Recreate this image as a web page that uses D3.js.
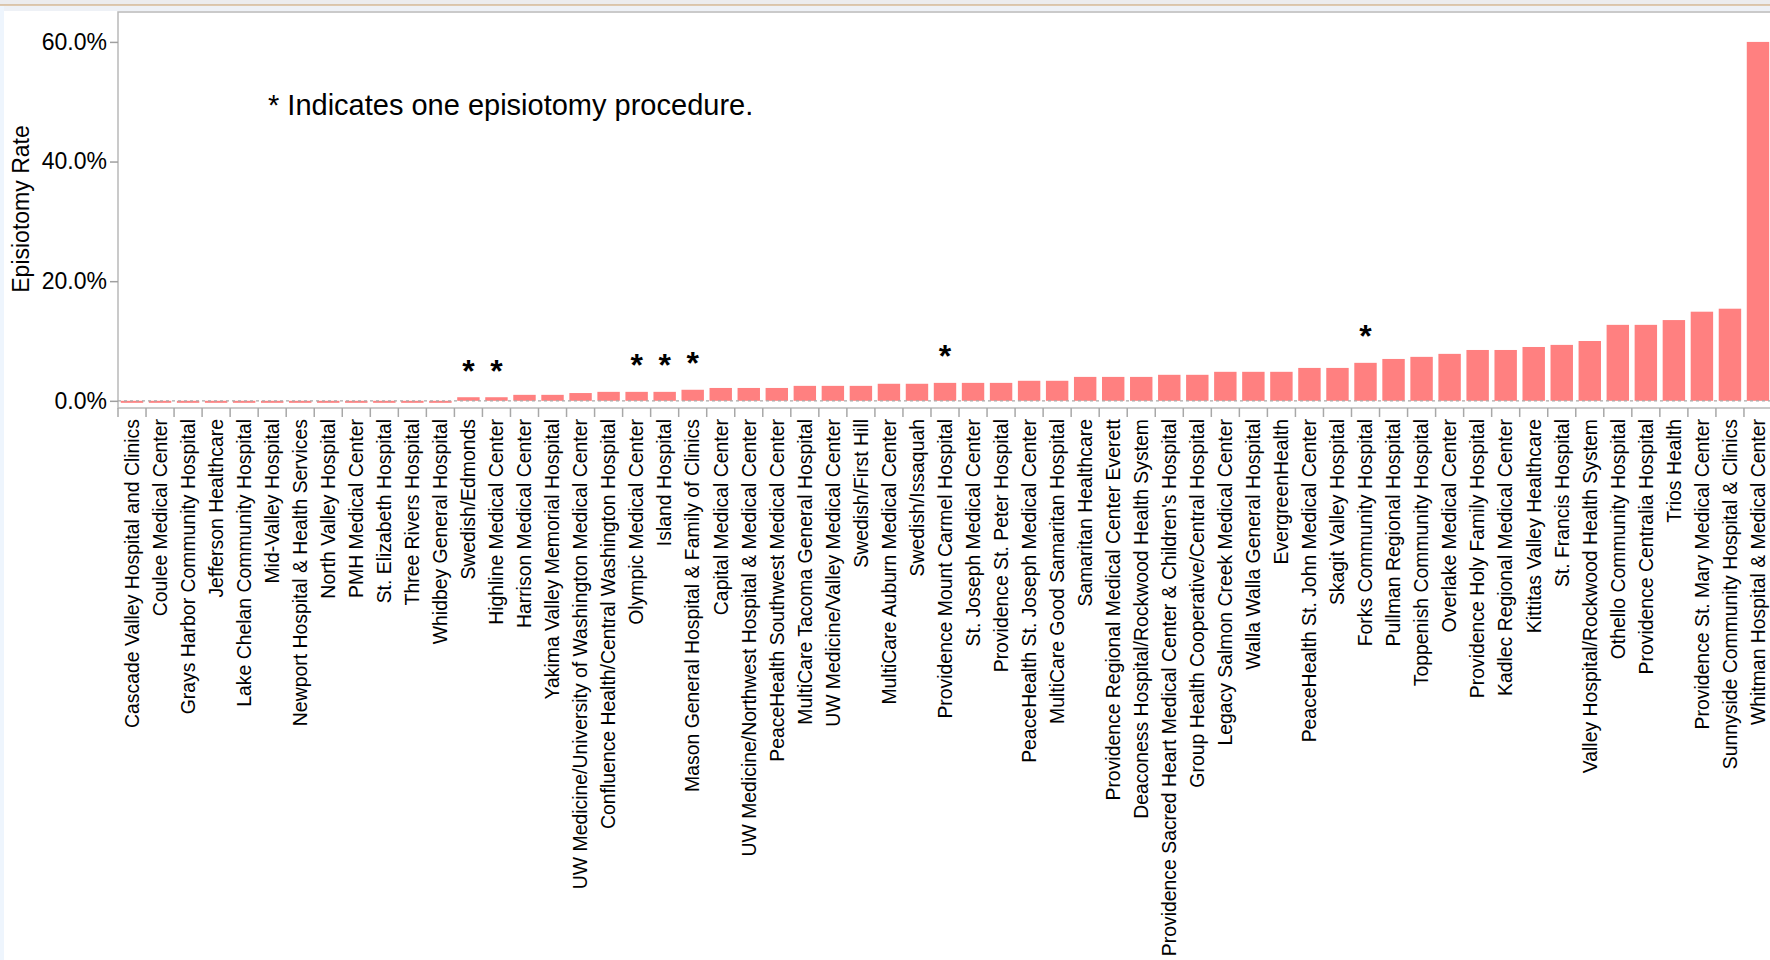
<!DOCTYPE html>
<html>
<head>
<meta charset="utf-8">
<script src="https://cdn.jsdelivr.net/npm/d3@7"></script>
<style>
  html, body { margin: 0; padding: 0; background: #ffffff; }
  svg { display: block; font-family: "Liberation Sans", Arial, sans-serif; }
</style>
</head>
<body>
<svg id="chart" width="1770" height="960"></svg>
<script>
const hospitals = [
  "Cascade Valley Hospital and Clinics",
  "Coulee Medical Center",
  "Grays Harbor Community Hospital",
  "Jefferson Healthcare",
  "Lake Chelan Community Hospital",
  "Mid-Valley Hospital",
  "Newport Hospital & Health Services",
  "North Valley Hospital",
  "PMH Medical Center",
  "St. Elizabeth Hospital",
  "Three Rivers Hospital",
  "Whidbey General Hospital",
  "Swedish/Edmonds",
  "Highline Medical Center",
  "Harrison Medical Center",
  "Yakima Valley Memorial Hospital",
  "UW Medicine/University of Washington Medical Center",
  "Confluence Health/Central Washington Hospital",
  "Olympic Medical Center",
  "Island Hospital",
  "Mason General Hospital & Family of Clinics",
  "Capital Medical Center",
  "UW Medicine/Northwest Hospital & Medical Center",
  "PeaceHealth Southwest Medical Center",
  "MultiCare Tacoma General Hospital",
  "UW Medicine/Valley Medical Center",
  "Swedish/First Hill",
  "MultiCare Auburn Medical Center",
  "Swedish/Issaquah",
  "Providence Mount Carmel Hospital",
  "St. Joseph Medical Center",
  "Providence St. Peter Hospital",
  "PeaceHealth St. Joseph Medical Center",
  "MultiCare Good Samaritan Hospital",
  "Samaritan Healthcare",
  "Providence Regional Medical Center Everett",
  "Deaconess Hospital/Rockwood Health System",
  "Providence Sacred Heart Medical Center & Children's Hospital",
  "Group Health Cooperative/Central Hospital",
  "Legacy Salmon Creek Medical Center",
  "Walla Walla General Hospital",
  "EvergreenHealth",
  "PeaceHealth St. John Medical Center",
  "Skagit Valley Hospital",
  "Forks Community Hospital",
  "Pullman Regional Hospital",
  "Toppenish Community Hospital",
  "Overlake Medical Center",
  "Providence Holy Family Hospital",
  "Kadlec Regional Medical Center",
  "Kittitas Valley Healthcare",
  "St. Francis Hospital",
  "Valley Hospital/Rockwood Health System",
  "Othello Community Hospital",
  "Providence Centralia Hospital",
  "Trios Health",
  "Providence St. Mary Medical Center",
  "Sunnyside Community Hospital & Clinics",
  "Whitman Hospital & Medical Center"
];

// Episiotomy rate, percent
const rates = [
  0, 0, 0, 0, 0, 0, 0, 0, 0, 0, 0, 0,
  0.6, 0.6, 1.0, 1.0, 1.3, 1.5, 1.5, 1.5, 1.85,
  2.15, 2.15, 2.15, 2.5, 2.5, 2.5, 2.85, 2.85,
  3.0, 3.0, 3.0, 3.35, 3.35, 4.0, 4.0, 4.0,
  4.35, 4.35, 4.85, 4.85, 4.85, 5.5, 5.5,
  6.35, 7.0, 7.35, 7.85, 8.5, 8.5, 9.0, 9.35, 10.0,
  12.7, 12.7, 13.5, 14.9, 15.4, 60.0
];

// Hospitals marked with "*" (one episiotomy procedure)
const oneProcedure = [
  "Swedish/Edmonds",
  "Highline Medical Center",
  "Olympic Medical Center",
  "Island Hospital",
  "Mason General Hospital & Family of Clinics",
  "Providence Mount Carmel Hospital",
  "Forks Community Hospital"
];

const yTicks = [0, 20, 40, 60];
const yDomain = [-1.2, 65];
const yTitle = "Episiotomy Rate";
const note = "* Indicates one episiotomy procedure.";

const data = hospitals.map((h, i) => ({ name: h, rate: rates[i], star: oneProcedure.includes(h) }));

const svg = d3.select("#chart");
const W = 1770, H = 960;
const plot = { left: 118, top: 12, bottom: 408, right: 1772 };

// window chrome
svg.append("rect").attr("x", 0).attr("y", 0).attr("width", W).attr("height", 5).attr("fill", "#ececee");
svg.append("line").attr("x1", 0).attr("x2", W).attr("y1", 5).attr("y2", 5).attr("stroke", "#d3b795").attr("stroke-width", 1.5);
svg.append("rect").attr("x", 0).attr("y", 6).attr("width", W).attr("height", 5).attr("fill", "#eef1f6");
svg.append("rect").attr("x", 0).attr("y", 6).attr("width", 4).attr("height", H).attr("fill", "#eef5fd");

const x = d3.scaleBand()
  .domain(hospitals)
  .range([plot.left, plot.right])
  .paddingInner(0.2)
  .paddingOuter(0.1);

const y = d3.scaleLinear().domain(yDomain).range([plot.bottom, plot.top]);

// frame
svg.append("rect")
  .attr("x", plot.left).attr("y", plot.top)
  .attr("width", plot.right - plot.left + 10).attr("height", plot.bottom - plot.top)
  .attr("fill", "#ffffff").attr("stroke", "#b9b9b9").attr("stroke-width", 1.5);

// bars
svg.append("g").selectAll("rect").data(data).join("rect")
  .attr("x", d => x(d.name))
  .attr("width", x.bandwidth())
  .attr("y", d => d.rate > 0 ? y(d.rate) : y(0))
  .attr("height", d => d.rate > 0 ? y(0) - y(d.rate) : 2)
  .attr("fill", "#ff8080");

// zero reference line (dashed)
svg.append("line")
  .attr("x1", plot.left).attr("x2", W)
  .attr("y1", y(0)).attr("y2", y(0))
  .attr("stroke", "#a9a9a9").attr("stroke-width", 1.3)
  .attr("stroke-dasharray", "3,3");

// stars
svg.append("g").selectAll("text").data(data.filter(d => d.star)).join("text")
  .attr("x", d => x(d.name) + x.bandwidth() / 2)
  .attr("y", d => y(d.rate) - 15.5)
  .attr("text-anchor", "middle")
  .attr("font-size", 32).attr("font-weight", "bold")
  .attr("fill", "#000")
  .text("*");

// y axis
const yAxis = d3.axisLeft(y).tickValues(yTicks).tickSize(8).tickPadding(3)
  .tickFormat(d => d3.format(".1f")(d) + "%");
const gy = svg.append("g").attr("transform", `translate(${plot.left},0)`).call(yAxis);
gy.select(".domain").remove();
gy.selectAll(".tick line").attr("stroke", "#a0a0a0").attr("stroke-width", 1.5);
gy.selectAll(".tick text").attr("font-size", 23).attr("fill", "#000")
  .attr("font-family", "'Liberation Sans', Arial, sans-serif");

// x axis
const step = x.step();
const gx = svg.append("g").attr("transform", `translate(0,${plot.bottom})`);
gx.selectAll("line").data(hospitals).join("line")
  .attr("x1", d => x(d) - (step - x.bandwidth()) / 2)
  .attr("x2", d => x(d) - (step - x.bandwidth()) / 2)
  .attr("y1", 0).attr("y2", 9)
  .attr("stroke", "#a8a8a8").attr("stroke-width", 1.5);
gx.selectAll("text").data(hospitals).join("text")
  .attr("transform", d => `translate(${x(d) + x.bandwidth() / 2},11) rotate(-90)`)
  .attr("text-anchor", "end")
  .attr("dy", "0.35em")
  .attr("font-size", 19.4)
  .attr("fill", "#000")
  .text(d => d);

// y title
svg.append("text")
  .attr("transform", "translate(29,209) rotate(-90)")
  .attr("text-anchor", "middle")
  .attr("font-size", 23)
  .attr("fill", "#000")
  .text(yTitle);

// note
svg.append("text")
  .attr("x", 268).attr("y", 115)
  .attr("font-size", 29)
  .attr("fill", "#000")
  .text(note);
</script>
</body>
</html>
